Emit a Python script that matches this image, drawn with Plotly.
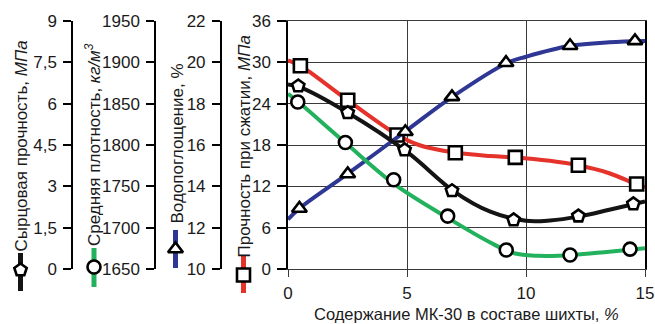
import plotly.graph_objects as go

W, H = 655, 324

# ---------------- data ----------------
# x: content of MK-30 in the batch, %
# Сырцовая прочность, МПа (pentagon, black)
raw_x = [0.43, 2.51, 4.90, 6.89, 9.48, 12.2, 14.51]
raw_y = [6.64, 5.67, 4.32, 2.84, 1.78, 1.92, 2.36]
raw_cx = [0, 0.5, 2.5, 5, 7, 8.5, 10, 11, 12.2, 13.5, 14.5, 15]
raw_cy = [6.70, 6.60, 5.68, 4.25, 2.80, 2.08, 1.75, 1.76, 1.90, 2.15, 2.35, 2.45]

# Средняя плотность, кг/м3 (circle, green)
den_x = [0.41, 2.41, 4.44, 6.71, 9.17, 11.85, 14.37]
den_y = [1852, 1803, 1758, 1714, 1673, 1667, 1674]
den_cx = [0, 0.4, 2.4, 4.5, 6.7, 8.5, 9.5, 10.5, 12, 13.5, 15]
den_cy = [1862, 1853, 1803, 1752, 1712, 1682, 1669, 1666, 1667, 1671, 1675]

# Водопоглощение, % (triangle, blue)
wat_x = [0.48, 2.51, 4.93, 6.89, 9.16, 11.85, 14.58]
wat_y = [12.93, 14.60, 16.64, 18.33, 19.98, 20.80, 21.04]
wat_cx = [0, 0.48, 2.5, 4.9, 6.9, 9.2, 10, 11.85, 13.5, 15]
wat_cy = [12.40, 12.93, 14.60, 16.63, 18.33, 19.97, 20.27, 20.80, 20.97, 21.03]

# Прочность при сжатии, МПа (square, red)
str_x = [0.52, 2.51, 4.58, 7.03, 9.55, 12.2, 14.65]
str_y = [29.5, 24.5, 19.45, 16.88, 16.2, 15.05, 12.34]
str_cx = [0, 0.52, 2.5, 4.6, 5.5, 7, 8.5, 9.55, 11, 12.2, 13.5, 14.65, 15]
str_cy = [30.3, 29.5, 24.5, 19.45, 18.0, 16.9, 16.4, 16.2, 15.7, 15.05, 13.9, 12.3, 11.9]

x_ticks = [0, 5, 10, 15]
raw_ticks = [0, 1.5, 3, 4.5, 6, 7.5, 9]
den_ticks = [1650, 1700, 1750, 1800, 1850, 1900, 1950]
wat_ticks = [10, 12, 14, 16, 18, 20, 22]
str_ticks = [0, 6, 12, 18, 24, 30, 36]

x_title = "Содержание МК-30 в составе шихты, <i>%</i>"
raw_title = "Сырцовая прочность, <i>МПа</i>"
den_title = "Средняя плотность, <i>кг/м<sup>3</sup></i>"
wat_title = "Водопоглощение, %"
str_title = "Прочность при сжатии, <i>МПа</i>"

# ---------------- styling ----------------
FONT = "Liberation Sans Narrow, Arial Narrow, Liberation Sans, Arial, sans-serif"
BLACK = "#141414"
GREEN = "#22b15c"
BLUE = "#2e3794"
RED = "#e5322a"
GRID = "#3a3a3a"
LW = 4
MS = 13

# pixel layout
x_left, x_right = 288, 645
y_top, y_bot = 21, 269
ax_raw, ax_den, ax_wat = 72, 155, 220.7

fig = go.Figure()

def curve(x, y, color, yaxis):
    fig.add_trace(go.Scatter(x=x, y=y, mode="lines", yaxis=yaxis,
                             line=dict(color=color, width=LW, shape="spline", smoothing=1.0),
                             hoverinfo="skip", showlegend=False))

def marks(x, y, symbol, yaxis):
    fig.add_trace(go.Scatter(x=x, y=y, mode="markers", yaxis=yaxis, cliponaxis=False,
                             marker=dict(symbol=symbol, size=MS, color="white",
                                         line=dict(color="black", width=2.6)),
                             showlegend=False))

curve(str_cx, str_cy, RED, "y")
curve(wat_cx, wat_cy, BLUE, "y2")
curve(den_cx, den_cy, GREEN, "y3")
curve(raw_cx, raw_cy, BLACK, "y4")
marks(str_x, str_y, "square", "y")
marks(wat_x, wat_y, "triangle-up", "y2")
marks(den_x, den_y, "circle", "y3")
marks(raw_x, raw_y, "pentagon", "y4")

# legend keys under the axis titles (auxiliary pixel-space axes)
keys = [
    (20.5, 253, 291, 270, BLACK, "pentagon"),
    (94, 248, 287, 267, GREEN, "circle"),
    (175.5, 230, 268, 249, BLUE, "triangle-up"),
    (243.5, 256, 293, 275, RED, "square"),
]
for kx, k0, k1, km, col, sym in keys:
    fig.add_trace(go.Scatter(x=[kx, kx], y=[k0, k1], mode="lines", xaxis="x2", yaxis="y5",
                             cliponaxis=False, line=dict(color=col, width=5),
                             hoverinfo="skip", showlegend=False))
    fig.add_trace(go.Scatter(x=[kx], y=[km], mode="markers", xaxis="x2", yaxis="y5",
                             cliponaxis=False,
                             marker=dict(symbol=sym, size=MS, color="white",
                                         line=dict(color="black", width=2.6)),
                             hoverinfo="skip", showlegend=False))

tickfont = dict(family=FONT, size=17, color="#1a1a1a")
ydom = [(H - y_bot) / H, (H - y_top) / H]

def side_axis(pos, rng, ticks, ticktext=None):
    d = dict(overlaying="y", anchor="free", position=pos / W, side="left",
             range=rng, tickmode="array", tickvals=ticks, showgrid=False, zeroline=False,
             showline=True, linecolor="black", linewidth=1.5,
             ticks="outside", ticklen=8, tickwidth=1.5, tickcolor="black",
             tickfont=tickfont, ticklabelstandoff=3)
    if ticktext:
        d["ticktext"] = ticktext
    return d

fig.update_layout(
    width=W, height=H,
    margin=dict(l=0, r=0, t=0, b=0, autoexpand=False),
    paper_bgcolor="white", plot_bgcolor="rgba(0,0,0,0)",
    separators=", ",
    showlegend=False,
    xaxis=dict(domain=[x_left / W, x_right / W], range=[0, 15], tickmode="array", tickvals=x_ticks,
               showgrid=True, gridcolor=GRID, gridwidth=1, zeroline=False,
               showline=True, mirror=True, linecolor=GRID, linewidth=1,
               ticks="outside", ticklen=7, tickcolor=GRID, tickwidth=1,
               tickfont=tickfont, ticklabelstandoff=2),
    yaxis=dict(domain=ydom, range=[0, 36], tickmode="array", tickvals=str_ticks,
               showgrid=True, gridcolor=GRID, gridwidth=1, zeroline=False,
               showline=True, mirror=True, linecolor="black", linewidth=1.5,
               ticks="outside", ticklen=9, tickwidth=1.5, tickcolor="black",
               tickfont=tickfont, ticklabelstandoff=3),
    yaxis2=side_axis(ax_wat, [10, 22], wat_ticks),
    yaxis3=side_axis(ax_den, [1650, 1950], den_ticks),
    yaxis4=side_axis(ax_raw, [0, 9], raw_ticks),
    xaxis2=dict(domain=[0, 1], range=[0, W], visible=False, fixedrange=True),
    yaxis5=dict(domain=[0, 1], range=[H, 0], visible=False, anchor="x2", fixedrange=True),
)

titlefont = dict(family=FONT, size=17, color="#1a1a1a")
for tx, ty, txt in [(20.5, 146, raw_title), (93, 145, den_title),
                    (176.5, 144, wat_title), (243.5, 146, str_title)]:
    fig.add_annotation(x=tx / W, y=1 - ty / H, xref="paper", yref="paper", text=txt,
                       textangle=-90, showarrow=False, xanchor="center", yanchor="middle",
                       font=titlefont)
fig.add_annotation(x=466 / W, y=1 - 314 / H, xref="paper", yref="paper", text=x_title,
                   showarrow=False, xanchor="center", yanchor="middle",
                   font=dict(family=FONT, size=16.5, color="#1a1a1a"))

fig.write_html("out.html", config={"displayModeBar": False},
               post_script="document.body.style.margin='0px';")
